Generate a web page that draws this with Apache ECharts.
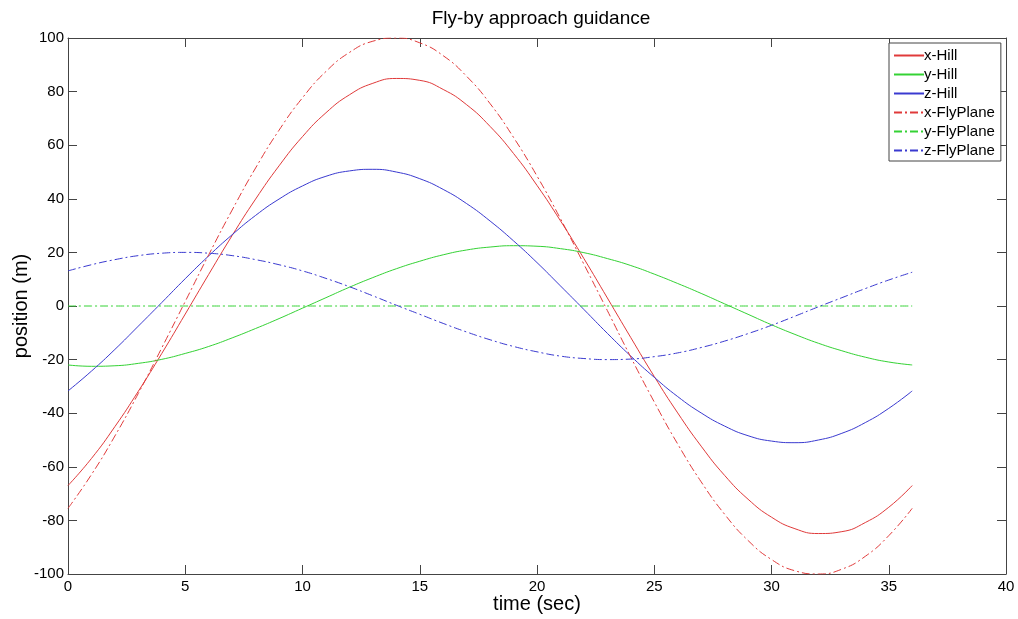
<!DOCTYPE html>
<html>
<head>
<meta charset="utf-8">
<title>Fly-by approach guidance</title>
<script src="https://cdn.jsdelivr.net/npm/echarts@6/dist/echarts.min.js"></script>
<style>
  html, body { margin: 0; padding: 0; background: #fff; }
  #chart { width: 1018px; height: 619px; }
</style>
</head>
<body>
<div id="chart"></div>
<script>
// Sample times (sec)
const time = [0,1,2,3,4,5,6,7,8,9,10,11,12,13,14,15,16,17,18,19,20,21,22,23,24,25,26,27,28,29,30,31,32,33,34,35,36];

// Hill-frame positions (m)
const xHill = [-67.0,-56.9,-45.0,-31.8,-17.7,-3.0,11.8,26.3,39.9,52.3,63.2,72.1,78.8,83.1,84.9,84.2,80.8,75.1,67.0,56.9,45.0,31.8,17.7,3.0,-11.8,-26.3,-39.9,-52.3,-63.2,-72.1,-78.8,-83.1,-84.9,-84.2,-80.8,-75.1,-67.0];
const yHill = [-22.0,-22.5,-22.3,-21.4,-19.9,-17.7,-15.1,-11.9,-8.4,-4.7,-0.8,3.1,7.0,10.6,13.9,16.7,19.1,20.9,22.0,22.5,22.3,21.4,19.9,17.7,15.1,11.9,8.4,4.7,0.8,-3.1,-7.0,-10.6,-13.9,-16.7,-19.1,-20.9,-22.0];
const zHill = [-31.7,-24.3,-16.2,-7.5,1.3,10.2,18.7,26.6,33.8,39.9,44.8,48.4,50.4,51.0,50.0,47.5,43.5,38.2,31.7,24.3,16.2,7.5,-1.3,-10.2,-18.7,-26.6,-33.8,-39.9,-44.8,-48.4,-50.4,-51.0,-50.0,-47.5,-43.5,-38.2,-31.7];

// Fly-plane positions (m)
const xFly = [-75.5,-62.9,-48.5,-32.6,-15.6,1.7,19.1,35.8,51.5,65.6,77.7,87.5,94.6,98.8,100.0,98.2,93.4,85.7,75.5,62.9,48.5,32.6,15.6,-1.7,-19.1,-35.8,-51.5,-65.6,-77.7,-87.5,-94.6,-98.8,-100.0,-98.2,-93.4,-85.7,-75.5];
const yFly = [0,0,0,0,0,0,0,0,0,0,0,0,0,0,0,0,0,0,0,0,0,0,0,0,0,0,0,0,0,0,0,0,0,0,0,0,0];
const zFly = [13.1,15.4,17.3,18.8,19.7,20.0,19.7,18.8,17.3,15.4,13.1,10.3,7.2,3.8,0.3,-3.1,-6.5,-9.7,-12.6,-15.1,-17.1,-18.7,-19.6,-20.0,-19.8,-18.9,-17.5,-15.5,-13.1,-10.3,-7.2,-3.8,-0.3,3.1,6.5,9.7,12.6];

// Axis ticks
const xTicks = { min: 0, max: 40, step: 5 };
const yTicks = { min: -100, max: 100, step: 20 };

const RED = '#e03a3a', GREEN = '#34d234', BLUE = '#3a3ad0';
const DASHDOT = [8, 3, 2, 3];
const FONT = '"Liberation Sans", Arial, Helvetica, sans-serif';
const AXIS_COLOR = '#444';

function pairs(vals) { return time.map((t, i) => [t, vals[i]]); }

function lineSeries(name, vals, color, dashed) {
  return {
    name: name,
    type: 'line',
    data: pairs(vals),
    showSymbol: false,
    symbol: 'none',
    smooth: true,
    clip: true,
    lineStyle: { color: color, width: 1, type: dashed ? DASHDOT : 'solid' },
    itemStyle: { color: color },
    emphasis: { disabled: true },
    animation: false
  };
}

const mainTick = { show: true, inside: true, length: 9, lineStyle: { color: AXIS_COLOR, width: 1 } };
const axisLine = { show: true, onZero: false, lineStyle: { color: AXIS_COLOR, width: 1 } };

const chart = echarts.init(document.getElementById('chart'), null, { renderer: 'canvas' });
chart.setOption({
  backgroundColor: '#ffffff',
  animation: false,
  textStyle: { fontFamily: FONT },
  title: {
    text: 'Fly-by approach guidance',
    left: 536, top: 4, textAlign: 'center',
    textStyle: { fontFamily: FONT, fontSize: 19, fontWeight: 'normal', color: '#000' }
  },
  grid: { left: 68, right: 12, top: 38, bottom: 45, containLabel: false, outerBoundsMode: 'none' },
  legend: {
    orient: 'vertical',
    left: 889, top: 43,
    padding: [5, 6, 3, 4],
    itemWidth: 30, itemHeight: 16, itemGap: 4,
    backgroundColor: '#ffffff',
    borderColor: AXIS_COLOR, borderWidth: 1, borderRadius: 0,
    itemStyle: { opacity: 0 },
    textStyle: { fontFamily: FONT, fontSize: 15, color: '#000', padding: [0, 0, 0, -5] },
    data: ['x-Hill', 'y-Hill', 'z-Hill', 'x-FlyPlane', 'y-FlyPlane', 'z-FlyPlane'],
    selectedMode: false
  },
  xAxis: [{
    type: 'value', position: 'bottom',
    min: xTicks.min, max: xTicks.max, interval: xTicks.step,
    name: 'time (sec)', nameLocation: 'middle', nameGap: 20, nameMoveOverlap: false,
    nameTextStyle: { fontFamily: FONT, fontSize: 20, color: '#000' },
    axisLine: axisLine, axisTick: mainTick,
    axisLabel: { fontFamily: FONT, fontSize: 15, color: '#000', margin: 5 },
    splitLine: { show: false }
  }, {
    type: 'value', position: 'top',
    min: xTicks.min, max: xTicks.max, interval: xTicks.step,
    axisLine: axisLine, axisTick: mainTick,
    axisLabel: { show: false }, splitLine: { show: false }
  }],
  yAxis: [{
    type: 'value', position: 'left',
    min: yTicks.min, max: yTicks.max, interval: yTicks.step,
    name: 'position (m)', nameLocation: 'middle', nameGap: 37, nameRotate: 90, nameMoveOverlap: false,
    nameTextStyle: { fontFamily: FONT, fontSize: 20, color: '#000' },
    axisLine: axisLine, axisTick: mainTick,
    axisLabel: { fontFamily: FONT, fontSize: 15, color: '#000', margin: 4 },
    splitLine: { show: false }
  }, {
    type: 'value', position: 'right',
    min: yTicks.min, max: yTicks.max, interval: yTicks.step,
    axisLine: axisLine, axisTick: mainTick,
    axisLabel: { show: false }, splitLine: { show: false }
  }],
  series: [
    lineSeries('x-Hill', xHill, RED, false),
    lineSeries('y-Hill', yHill, GREEN, false),
    lineSeries('z-Hill', zHill, BLUE, false),
    lineSeries('x-FlyPlane', xFly, RED, true),
    lineSeries('y-FlyPlane', yFly, GREEN, true),
    lineSeries('z-FlyPlane', zFly, BLUE, true)
  ]
});
</script>
</body>
</html>
